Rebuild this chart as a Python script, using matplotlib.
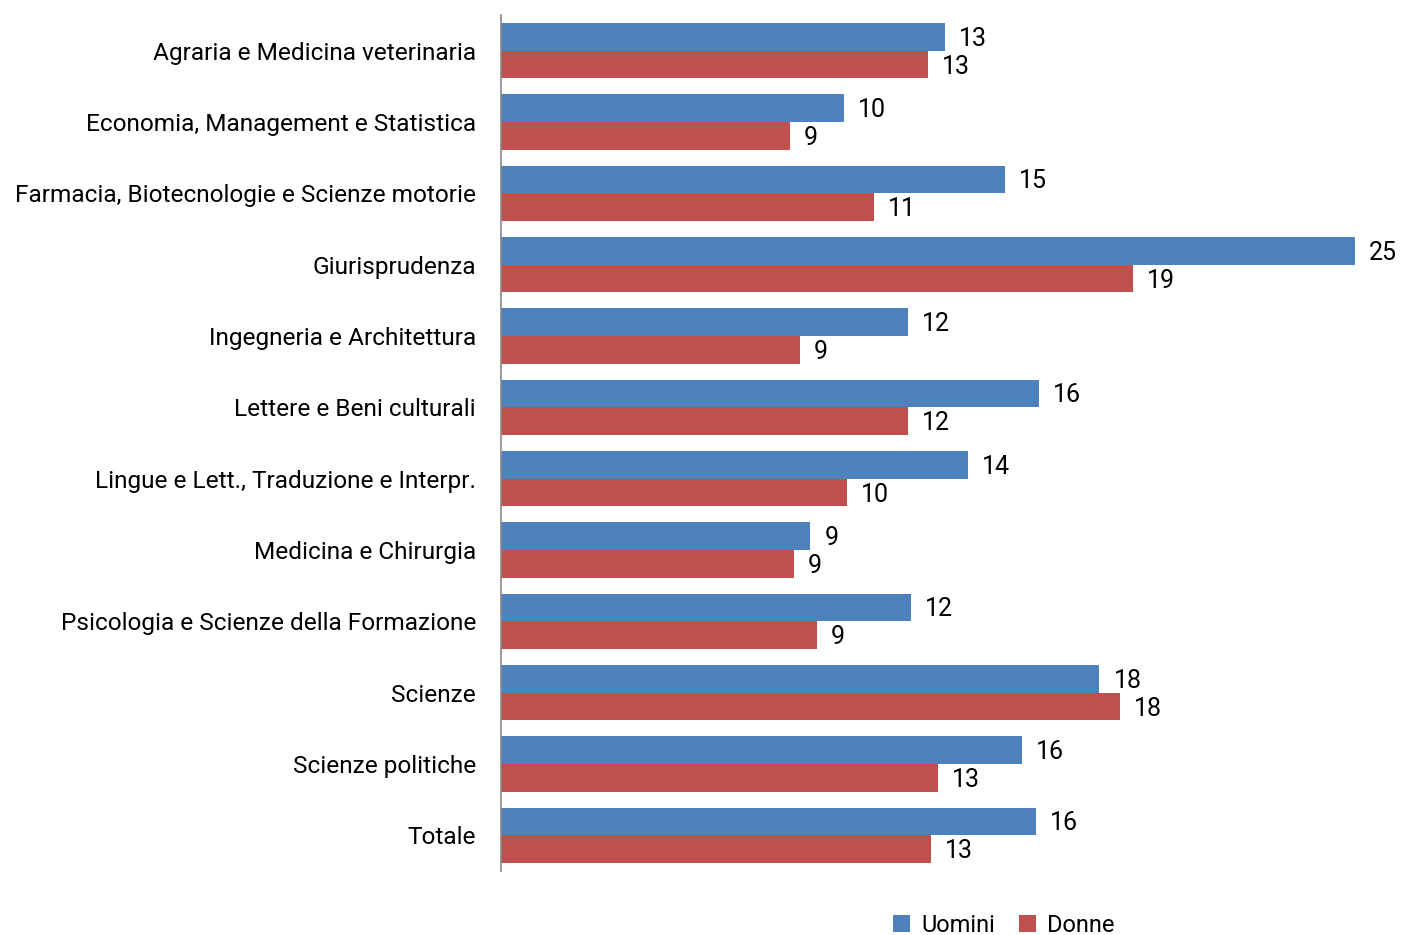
import matplotlib

matplotlib.use("Agg")
import matplotlib.pyplot as plt
import numpy as np

plt.rcParams["font.family"] = ["Roboto", "DejaVu Sans"]

CATEGORIES = [
    "Agraria e Medicina veterinaria",
    "Economia, Management e Statistica",
    "Farmacia, Biotecnologie e Scienze motorie",
    "Giurisprudenza",
    "Ingegneria e Architettura",
    "Lettere e Beni culturali",
    "Lingue e Lett., Traduzione e Interpr.",
    "Medicina e Chirurgia",
    "Psicologia e Scienze della Formazione",
    "Scienze",
    "Scienze politiche",
    "Totale",
]
UOMINI = [13.2, 10.2, 15.0, 25.4, 12.1, 16.0, 13.9, 9.2, 12.2, 17.8, 15.5, 15.9]
DONNE = [12.7, 8.6, 11.1, 18.8, 8.9, 12.1, 10.3, 8.7, 9.4, 18.4, 13.0, 12.8]

BLUE = "#4F81BD"
RED = "#C0504D"

fig = plt.figure(figsize=(14.01, 9.35), dpi=100)
ax = fig.add_axes([501 / 1401, 64 / 935, 854 / 1401, 856 / 935])

y = np.arange(len(CATEGORIES))
h = 0.39
bars_u = ax.barh(y - h / 2, UOMINI, height=h, color=BLUE, label="Uomini")
bars_d = ax.barh(y + h / 2, DONNE, height=h, color=RED, label="Donne")

for bars, vals in ((bars_u, UOMINI), (bars_d, DONNE)):
    for bar, v in zip(bars, vals):
        ax.annotate(f"{v:.0f}", (v, bar.get_y() + bar.get_height() / 2),
                    xytext=(14, -2), textcoords="offset pixels",
                    va="center", ha="left", fontsize=18, color="black",
                    annotation_clip=False)

ax.set_ylim(len(CATEGORIES) - 0.5, -0.5)
ax.set_xlim(0, max(UOMINI))
ax.set_yticks(y, CATEGORIES, fontsize=17.6)
ax.tick_params(axis="y", length=0, pad=18)
ax.set_xticks([])
for side in ("top", "right", "bottom"):
    ax.spines[side].set_visible(False)
ax.spines["left"].set_color("#898989")
ax.spines["left"].set_linewidth(1.2)

fig.legend(loc="center", bbox_to_anchor=(1004 / 1401, 1 - 925 / 935), ncol=2, frameon=False,
           fontsize=17, handlelength=0.7, handleheight=0.7, handletextpad=0.5,
           columnspacing=1.0, borderpad=0.1)

fig.savefig("out.png", dpi=100)
